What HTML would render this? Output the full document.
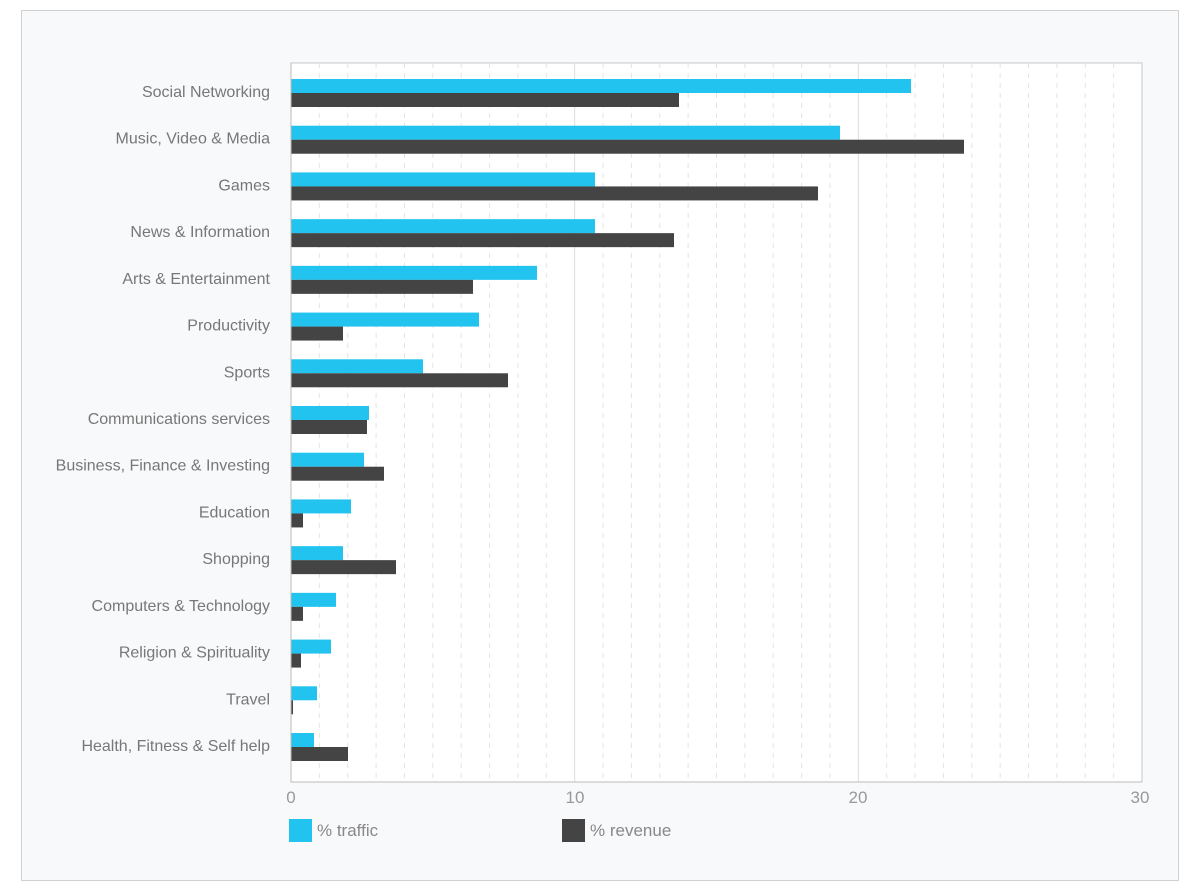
<!DOCTYPE html>
<html><head><meta charset="utf-8"><style>
html,body{margin:0;padding:0;background:#fff;}
svg{display:block;font-family:"Liberation Sans",sans-serif;}
</style></head><body>
<svg width="1200" height="889" xmlns="http://www.w3.org/2000/svg">
<rect x="21.5" y="10.5" width="1157" height="870" fill="#f8f9fb" stroke="#d0d0d0"/>
<rect x="291" y="63" width="851" height="719" fill="#fff" stroke="#c8c8c8"/>
<g id="grid"></g>
<g id="bars"></g>
<g id="labels" font-size="16" fill="#777" text-anchor="end"></g>
<line x1="291" y1="63" x2="291" y2="782" stroke="#bbb"/>
<line x1="291" y1="782" x2="1142" y2="782" stroke="#bbb"/>
<g font-size="17" fill="#999" text-anchor="middle">
<text x="291" y="803">0</text><text x="575" y="803">10</text><text x="858" y="803">20</text><text x="1140" y="803">30</text>
</g>
<rect x="289" y="819" width="23" height="23" fill="#22c3ee"/>
<text x="317" y="836" font-size="17" fill="#888">% traffic</text>
<rect x="562" y="819" width="23" height="23" fill="#444"/>
<text x="590" y="836" font-size="17" fill="#888">% revenue</text>
</svg>
<script>
var ns="http://www.w3.org/2000/svg";
function el(p,t,a,txt){var e=document.createElementNS(ns,t);for(var k in a)e.setAttribute(k,a[k]);if(txt)e.textContent=txt;document.getElementById(p).appendChild(e);}
for(var i=1;i<30;i++){var x=291+i*851/30;
 if(i%10==0)el("grid","line",{x1:x,y1:63,x2:x,y2:782,stroke:"#ddd"});
 else el("grid","line",{x1:x,y1:63,x2:x,y2:782,stroke:"#e4e4e4","stroke-dasharray":"5,5"});}
var d=[["Social Networking",911,679],["Music, Video & Media",840,964],["Games",595,818],["News & Information",595,674],["Arts & Entertainment",537,473],["Productivity",479,343],["Sports",423,508],["Communications services",369,367],["Business, Finance & Investing",364,384],["Education",351,303],["Shopping",343,396],["Computers & Technology",336,303],["Religion & Spirituality",331,301],["Travel",317,293],["Health, Fitness & Self help",314,348]];
d.forEach(function(r,i){var y=79+i*654/14;
 el("bars","rect",{x:291,y:y,width:r[1]-291,height:14,fill:"#22c3ee"});
 el("bars","rect",{x:291,y:y+14,width:r[2]-291,height:14,fill:"#444"});
 el("labels","text",{x:270,y:y+18},r[0]);});
</script>
</body></html>
